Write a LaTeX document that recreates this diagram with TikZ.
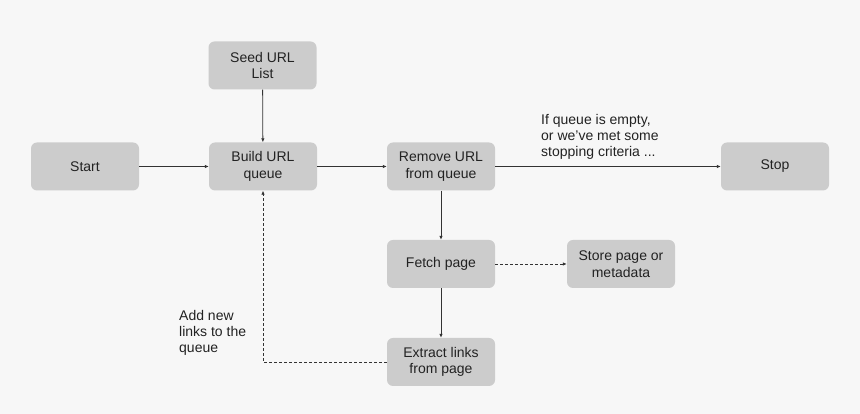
\documentclass[tikz,border=0pt]{standalone}
\usepackage{fontspec}
\setmainfont{Liberation Sans}
\usetikzlibrary{arrows.meta}
\definecolor{bgc}{HTML}{F7F7F7}
\definecolor{boxc}{HTML}{CCCCCC}
\definecolor{txtc}{HTML}{222222}
\definecolor{linec}{HTML}{333333}
\tikzset{
  box/.style={rectangle, rounded corners=6pt, fill=boxc, draw=none,
    minimum width=108pt, minimum height=48pt, inner sep=2pt,
    align=center, text=txtc, font=\fontsize{14}{16.5}\selectfont},
  lbl/.style={align=left, text=txtc, font=\fontsize{14}{16}\selectfont, inner sep=0pt},
  conn/.style={draw=linec, line width=0.8pt, -{Latex[length=4pt,width=3.5pt]}},
  dconn/.style={conn, dash pattern=on 3pt off 2pt}
}
\begin{document}
\begin{tikzpicture}[x=1pt,y=1pt]
\fill[bgc] (0,0) rectangle (860,414);
\useasboundingbox (0,0) rectangle (860,414);
\node[box] (start) at (85,247.5) {Start};
\node[box] (build) at (263,247.5) {Build URL\\queue};
\node[box] (seed) at (262.5,348.5) {Seed URL\\List};
\node[box] (remove) at (441,247.5) {Remove URL\\from queue};
\node[box] (stop) at (775,247.5) {Stop};
\node[box] (fetch) at (441,150) {Fetch page};
\node[box] (extract) at (441,52) {Extract links\\from page};
\node[box] (store) at (621,150) {Store page or\\metadata};
\node[lbl, anchor=north west] (cond) at (541,300) {If queue is empty,\\or we’ve met some\\stopping criteria ...};
\node[lbl, anchor=north west] (addl) at (179,104) {Add new\\links to the\\queue};
\coordinate (corner) at (263,52);
\draw[conn] (start) -- (build);
\draw[conn] (seed) -- (build);
\draw[conn] (build) -- (remove);
\draw[conn] (remove) -- (stop);
\draw[conn] (remove) -- (fetch);
\draw[conn] (fetch) -- (extract);
\draw[dconn] (fetch) -- (store);
\draw[dconn] (extract.west) -- (corner) -- (build.south);
\end{tikzpicture}
\end{document}
